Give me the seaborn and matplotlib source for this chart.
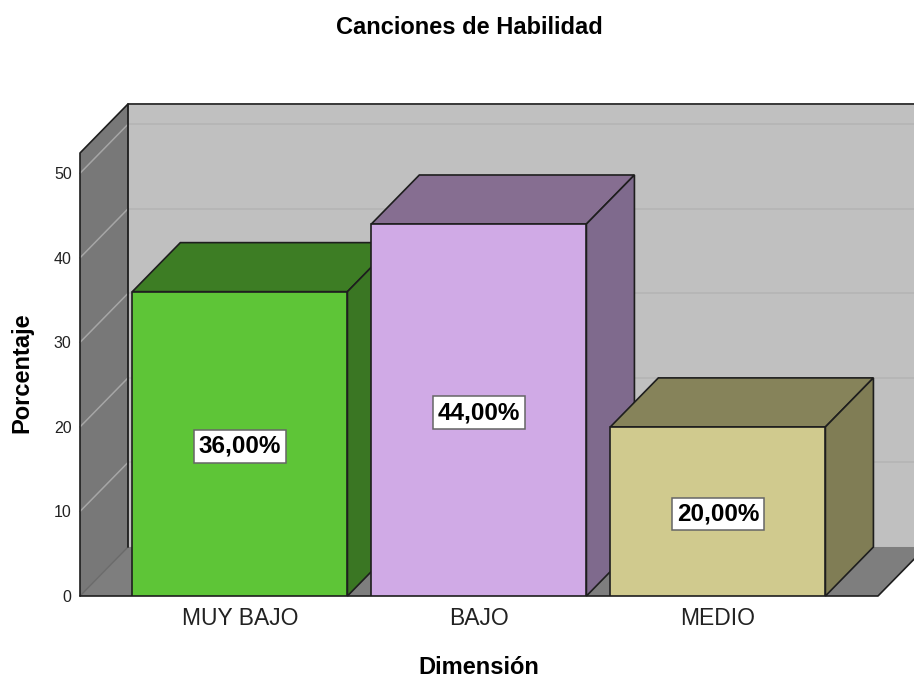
import matplotlib
matplotlib.use("Agg")
import matplotlib.pyplot as plt
import pandas as pd
import seaborn as sns
from matplotlib.patches import Polygon

# Data
categorias = ["MUY BAJO", "BAJO", "MEDIO"]
porcentajes = [36, 44, 20]
etiquetas = ["36,00%", "44,00%", "20,00%"]
ticks_y = [0, 10, 20, 30, 40, 50]

# Colours for each bar: front, top, side
frente = ["#5EC537", "#D0AAE6", "#D0CA8E"]
arriba = ["#3D7D24", "#866E91", "#86835A"]
lado = ["#3A7623", "#7F6A8D", "#807D55"]
LINEA = "#1E1E1E"

sns.set_theme(style="white")
plt.rcParams["font.family"] = ["Liberation Sans", "DejaVu Sans"]

df = pd.DataFrame({"Dimension": categorias, "Porcentaje": porcentajes})

W, H = 914, 675
fig = plt.figure(figsize=(W / 100, H / 100), dpi=100)
ax = fig.add_axes([80 / W, (H - 596) / H, (878 - 80) / W, (596 - 153) / H])

sns.barplot(data=df, x="Dimension", y="Porcentaje", hue="Dimension",
            palette=frente, saturation=1, width=0.9, edgecolor=LINEA, linewidth=1.2,
            legend=False, ax=ax)
barras = list(ax.patches)

ax.set_xlim(-0.669, 2.670)
ax.set_ylim(0, 52.4)

# depth of the fake 3D, in data units
dx = 48 / 239
dy = 49 / 8.45
x0, x1 = ax.get_xlim()
y1 = ax.get_ylim()[1]


def poly(puntos, color, z, borde="none", lw=0):
    ax.add_patch(Polygon(puntos, closed=True, facecolor=color, edgecolor=borde,
                         linewidth=lw, zorder=z, clip_on=False))


# walls and floor
poly([(x0 + dx, dy), (x0 + dx, y1 + dy), (x1 + dx, y1 + dy), (x1 + dx, dy)], "#C0C0C0", 0.1)
poly([(x0, 0), (x0, y1), (x0 + dx, y1 + dy), (x0 + dx, dy)], "#787878", 0.2)
poly([(x0, 0), (x0 + dx, dy), (x1 + dx, dy), (x1, 0)], "#7E7E7E", 0.2)

# grid lines, on the back wall and going across the left wall
for t in ticks_y:
    if t > 0:
        ax.plot([x0 + dx, x1 + dx], [t + dy, t + dy], color="#B4B4B4", lw=1.1, zorder=0.3, clip_on=False)
        ax.plot([x0, x0 + dx], [t, t + dy], color="#A6A6A6", lw=1.1, zorder=0.3, clip_on=False)
ax.plot([x0, x0 + dx], [0, dy], color="#6A6A6A", lw=1, zorder=0.3, clip_on=False)

# outlines
ax.plot([x0 + dx, x0 + dx], [dy, y1 + dy], color=LINEA, lw=1.3, zorder=0.5, clip_on=False)
ax.plot([x0, x0, x0 + dx, x1 + dx], [0, y1, y1 + dy, y1 + dy], color=LINEA, lw=1.2, zorder=0.5, clip_on=False)
ax.plot([x0, x1, x1 + dx], [0, 0, dy], color=LINEA, lw=1.2, zorder=0.5, clip_on=False)

# top and side of each bar, later bars cover the earlier ones
for i, barra in enumerate(barras):
    a = barra.get_x()
    b = a + barra.get_width()
    h = barra.get_height()
    barra.set_zorder(3 + i + 0.5)
    poly([(a, h), (a + dx, h + dy), (b + dx, h + dy), (b, h)], arriba[i], 3 + i, LINEA, 1.2)
    poly([(b, 0), (b, h), (b + dx, h + dy), (b + dx, dy)], lado[i], 3 + i, LINEA, 1.2)
    ax.text(a + barra.get_width() / 2, h / 2, etiquetas[i], ha="center", va="center_baseline",
            fontsize=17.5, fontweight="bold", color="black", zorder=10,
            bbox=dict(boxstyle="square,pad=0.2", facecolor="white", edgecolor="#666666", linewidth=1.1))

sns.despine(ax=ax, left=True, bottom=True)
ax.set_yticks(ticks_y)
ax.tick_params(axis="y", length=0, pad=6, labelsize=11.5, colors="#222222")
ax.tick_params(axis="x", length=0, pad=8, labelsize=16.5, colors="#222222")
ax.set_xlabel("")
ax.set_ylabel("")

fig.text(469.5 / W, 1 - 34 / H, "Canciones de Habilidad", ha="center", va="baseline",
         fontsize=17, fontweight="bold", color="black")
fig.text(479 / W, 1 - 674.5 / H, "Dimensión", ha="center", va="baseline",
         fontsize=17, fontweight="bold", color="black")
fig.text(22 / W, 1 - 373 / H, "Porcentaje", ha="center", va="center", rotation=90,
         fontsize=17, fontweight="bold", color="black")

fig.savefig("out.png", dpi=100)
